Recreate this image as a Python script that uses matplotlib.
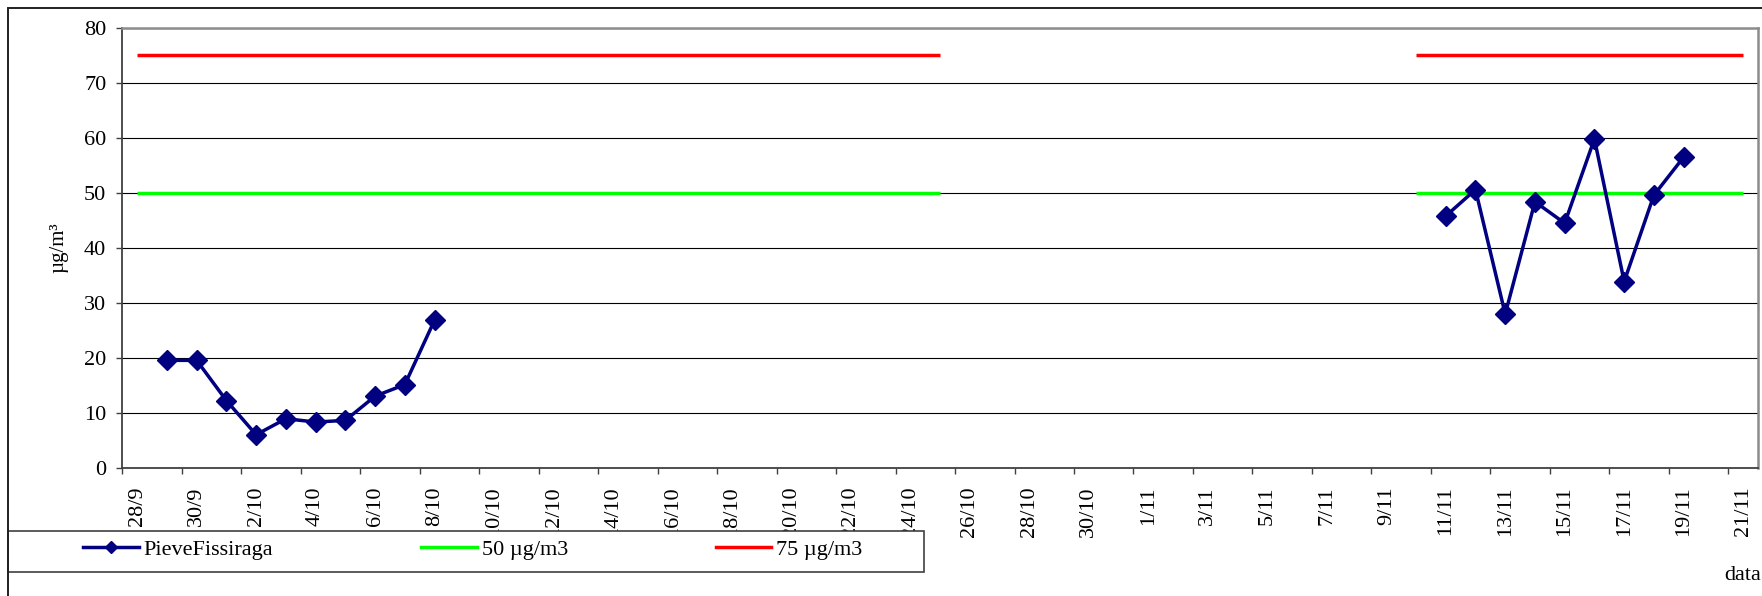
import numpy as np
import pandas as pd
import matplotlib.pyplot as plt
import matplotlib.dates as mdates
from matplotlib.patches import Rectangle
from matplotlib.lines import Line2D

plt.rcParams["font.family"] = ["Liberation Serif", "DejaVu Serif"]

# measuring campaign, daily PM10 (µg/m3)
first_days = pd.date_range("2009-09-29", "2009-10-08")
first_vals = [19.6, 19.6, 12.3, 6.1, 9.0, 8.4, 8.7, 13.1, 15.2, 26.9]
second_days = pd.date_range("2009-11-11", "2009-11-19")
second_vals = [45.8, 50.6, 28.0, 48.4, 44.5, 59.8, 33.9, 49.6, 56.5]

# days on which the limit values are shown
limit_days = pd.date_range("2009-09-28", "2009-10-25").append(
    pd.date_range("2009-11-10", "2009-11-21"))
limit_50 = 50
limit_75 = 75

all_days = pd.date_range("2009-09-28", "2009-11-21")
tick_days = all_days[::2]
tick_labels = [f"{d.day}/{d.month}" for d in tick_days]

pm10 = pd.Series(np.nan, index=all_days)
pm10[first_days] = first_vals
pm10[second_days] = second_vals
lim50 = pd.Series(np.nan, index=all_days)
lim50[limit_days] = limit_50
lim75 = pd.Series(np.nan, index=all_days)
lim75[limit_days] = limit_75

# points sit in the middle of each day slot
xs = mdates.date2num(all_days) + 0.5

FS = 16
W, H = 1762, 596
fig = plt.figure(figsize=(W / 100, H / 100), dpi=100)
ax = fig.add_axes([122.3 / W, 1 - 468.3 / H, (1758 - 122.3) / W, (468.3 - 27.7) / H])

ax.plot(xs, lim50.values, color="#00ff00", lw=2.5, solid_capstyle="butt", zorder=3)
ax.plot(xs, lim75.values, color="#ff0000", lw=2.5, solid_capstyle="butt", zorder=3)
ax.plot(xs, pm10.values, color="#000080", lw=2.5, marker="D", ms=10.5,
        mec="#000080", mfc="#000080", zorder=4)

ax.set_xlim(mdates.date2num(all_days[0]), mdates.date2num(all_days[-1]) + 1)
ax.set_ylim(0, 80)
ax.set_yticks(range(0, 81, 10))
ax.yaxis.grid(True, color="black", lw=0.8)
ax.set_axisbelow(True)
ax.tick_params(axis="y", labelsize=FS, length=4.5, width=1, pad=7, color="#404040")

ax.set_xticks(mdates.date2num(tick_days))
ax.set_xticklabels([])
ax.set_xticks(mdates.date2num(tick_days) + 0.5, minor=True)
ax.set_xticklabels(tick_labels, minor=True, rotation=90, fontsize=FS)
ax.tick_params(axis="x", which="major", length=4, width=1, color="#404040")
ax.tick_params(axis="x", which="minor", length=0, pad=13)

for side in ["left", "bottom"]:
    ax.spines[side].set_color("#404040")
    ax.spines[side].set_linewidth(1.3)
for side in ["top", "right"]:
    ax.spines[side].set_color("#8c8c8c")
    ax.spines[side].set_linewidth(1.8)

ax.set_ylabel("µg/m³", fontsize=15)
ax.yaxis.set_label_coords(-0.033, 0.5)

fig.text(1724 / W, 1 - 575.7 / H, "data", ha="left", va="center", fontsize=FS)

# legend box across the bottom
fig.add_artist(Rectangle((8.3 / W, 1 - 572.3 / H), (924 - 8.3) / W, (572.3 - 530.7) / H,
                         transform=fig.transFigure, facecolor="white",
                         edgecolor="#404040", lw=1.2, zorder=4))
handles = [
    Line2D([], [], color="#000080", lw=2.5, marker="D", ms=6.5, mfc="#000080", mec="#000080"),
    Line2D([], [], color="#00ff00", lw=2.5),
    Line2D([], [], color="#ff0000", lw=2.5),
]
fig.legend(handles, ["PieveFissiraga", "50 µg/m3", "75 µg/m3"],
           loc="center left", bbox_to_anchor=(83 / W, 1 - 550 / H), ncol=3,
           frameon=False, borderpad=0, borderaxespad=0, handlelength=2.5,
           handletextpad=0.23, columnspacing=6.65, fontsize=FS)

# chart frame
fig.add_artist(Rectangle((8.3 / W, -0.5), 2, 0.5 + 1 - 8.3 / H, transform=fig.transFigure,
                         fill=False, edgecolor="#202020", lw=1.4, zorder=6))

fig.savefig("out.png", dpi=100)
